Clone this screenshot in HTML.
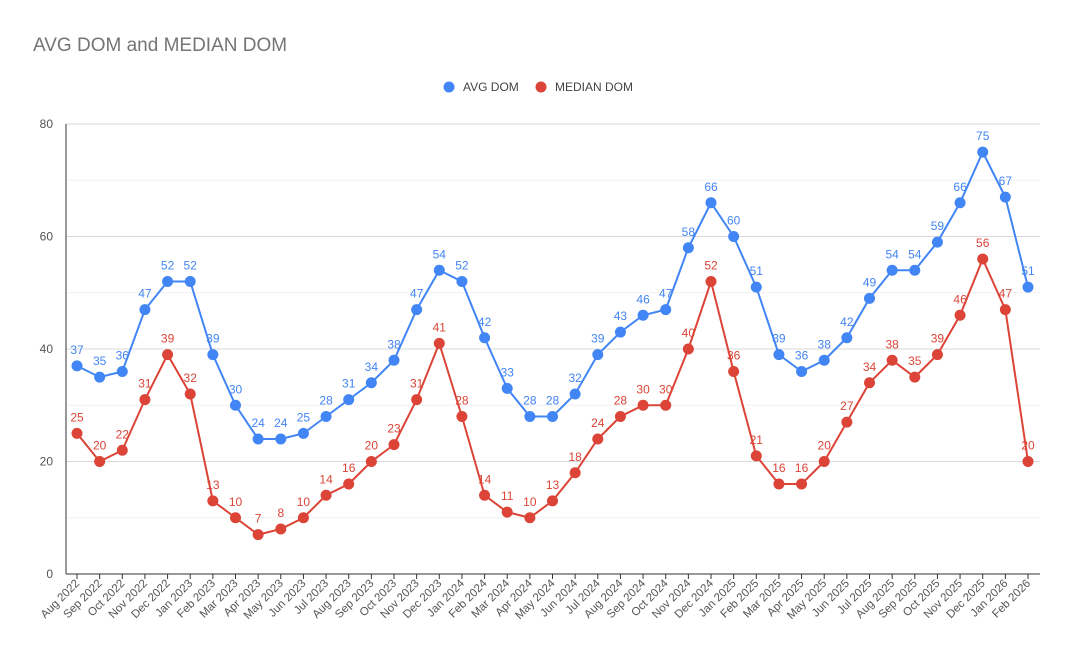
<!DOCTYPE html>
<html><head><meta charset="utf-8"><style>
body{margin:0;background:#fff;font-family:"Liberation Sans",Arial,sans-serif}
svg text{font-family:"Liberation Sans",Arial,sans-serif}
</style></head><body>
<svg id="c" width="1072" height="663" xmlns="http://www.w3.org/2000/svg">
<text x="33" y="51" font-size="19" fill="#757575">AVG DOM and MEDIAN DOM</text>
<g>
<g><circle cx="449" cy="87" r="5.5" fill="#4285f4"/><text x="463" y="91" font-size="12" fill="#444">AVG DOM</text></g>
<g><circle cx="541" cy="87" r="5.5" fill="#db4437"/><text x="555" y="91" font-size="12" fill="#444">MEDIAN DOM</text></g>
</g>
<g id="grid"></g><g id="axes"></g><g id="series"></g>
</svg>
<script>
const categories=["Aug 2022","Sep 2022","Oct 2022","Nov 2022","Dec 2022","Jan 2023","Feb 2023","Mar 2023","Apr 2023","May 2023","Jun 2023","Jul 2023","Aug 2023","Sep 2023","Oct 2023","Nov 2023","Dec 2023","Jan 2024","Feb 2024","Mar 2024","Apr 2024","May 2024","Jun 2024","Jul 2024","Aug 2024","Sep 2024","Oct 2024","Nov 2024","Dec 2024","Jan 2025","Feb 2025","Mar 2025","Apr 2025","May 2025","Jun 2025","Jul 2025","Aug 2025","Sep 2025","Oct 2025","Nov 2025","Dec 2025","Jan 2026","Feb 2026"];
const avgDom=[37,35,36,47,52,52,39,30,24,24,25,28,31,34,38,47,54,52,42,33,28,28,32,39,43,46,47,58,66,60,51,39,36,38,42,49,54,54,59,66,75,67,51];
const medianDom=[25,20,22,31,39,32,13,10,7,8,10,14,16,20,23,31,41,28,14,11,10,13,18,24,28,30,30,40,52,36,21,16,16,20,27,34,38,35,39,46,56,47,20];
const yTicks=[0,20,40,60,80];
const yMinor=[10,30,50,70];
const NS="http://www.w3.org/2000/svg";
const L=66,R=1040,x0=77,x1=1028,yb=574,yt=124,ymax=80;
const X=i=>x0+(x1-x0)*i/(categories.length-1);
const Y=v=>yb-(yb-yt)*v/ymax;
function mk(t,a,p){const e=document.createElementNS(NS,t);for(const k in a)e.setAttribute(k,a[k]);p.appendChild(e);return e;}
const grid=document.getElementById('grid'),axes=document.getElementById('axes'),ser=document.getElementById('series');
yMinor.forEach(v=>{const l=mk('line',{x1:L,x2:R,y1:Y(v),y2:Y(v),stroke:'#f0f0f0'},grid);

});
yTicks.forEach(v=>{const l=mk('line',{x1:L,x2:R,y1:Y(v),y2:Y(v),stroke:v===0?'#333':'#d9d9d9'},grid);


const t=mk('text',{x:53,y:Y(v)+4,'text-anchor':'end','font-size':12,fill:'#555'},axes);t.textContent=v;

});
const ya=mk('line',{x1:L,x2:L,y1:yt,y2:yb,stroke:'#333'},axes);


categories.forEach((c,i)=>{const x=X(i);
const tk=mk('line',{x1:x,x2:x,y1:yb,y2:yb+5,stroke:'#333'},axes);


const t=mk('text',{x:x+3,y:yb+10,'text-anchor':'end','font-size':11.5,fill:'#555',transform:`rotate(-45 ${x+3} ${yb+10})`},axes);t.textContent=c;

});
function series(vals,color,name){const g=mk('g',{},ser);


const p=mk('polyline',{points:vals.map((v,i)=>X(i)+','+Y(v)).join(' '),fill:'none',stroke:color,'stroke-width':2},g);


vals.forEach((v,i)=>{const c=mk('circle',{cx:X(i),cy:Y(v),r:5.5,fill:color},g);


const t=mk('text',{x:X(i),y:Y(v)-12,'text-anchor':'middle','font-size':12,fill:color},g);t.textContent=v;

});}
series(avgDom,'#4285f4','avg-dom');
series(medianDom,'#db4437','median-dom');
</script>
</body></html>
